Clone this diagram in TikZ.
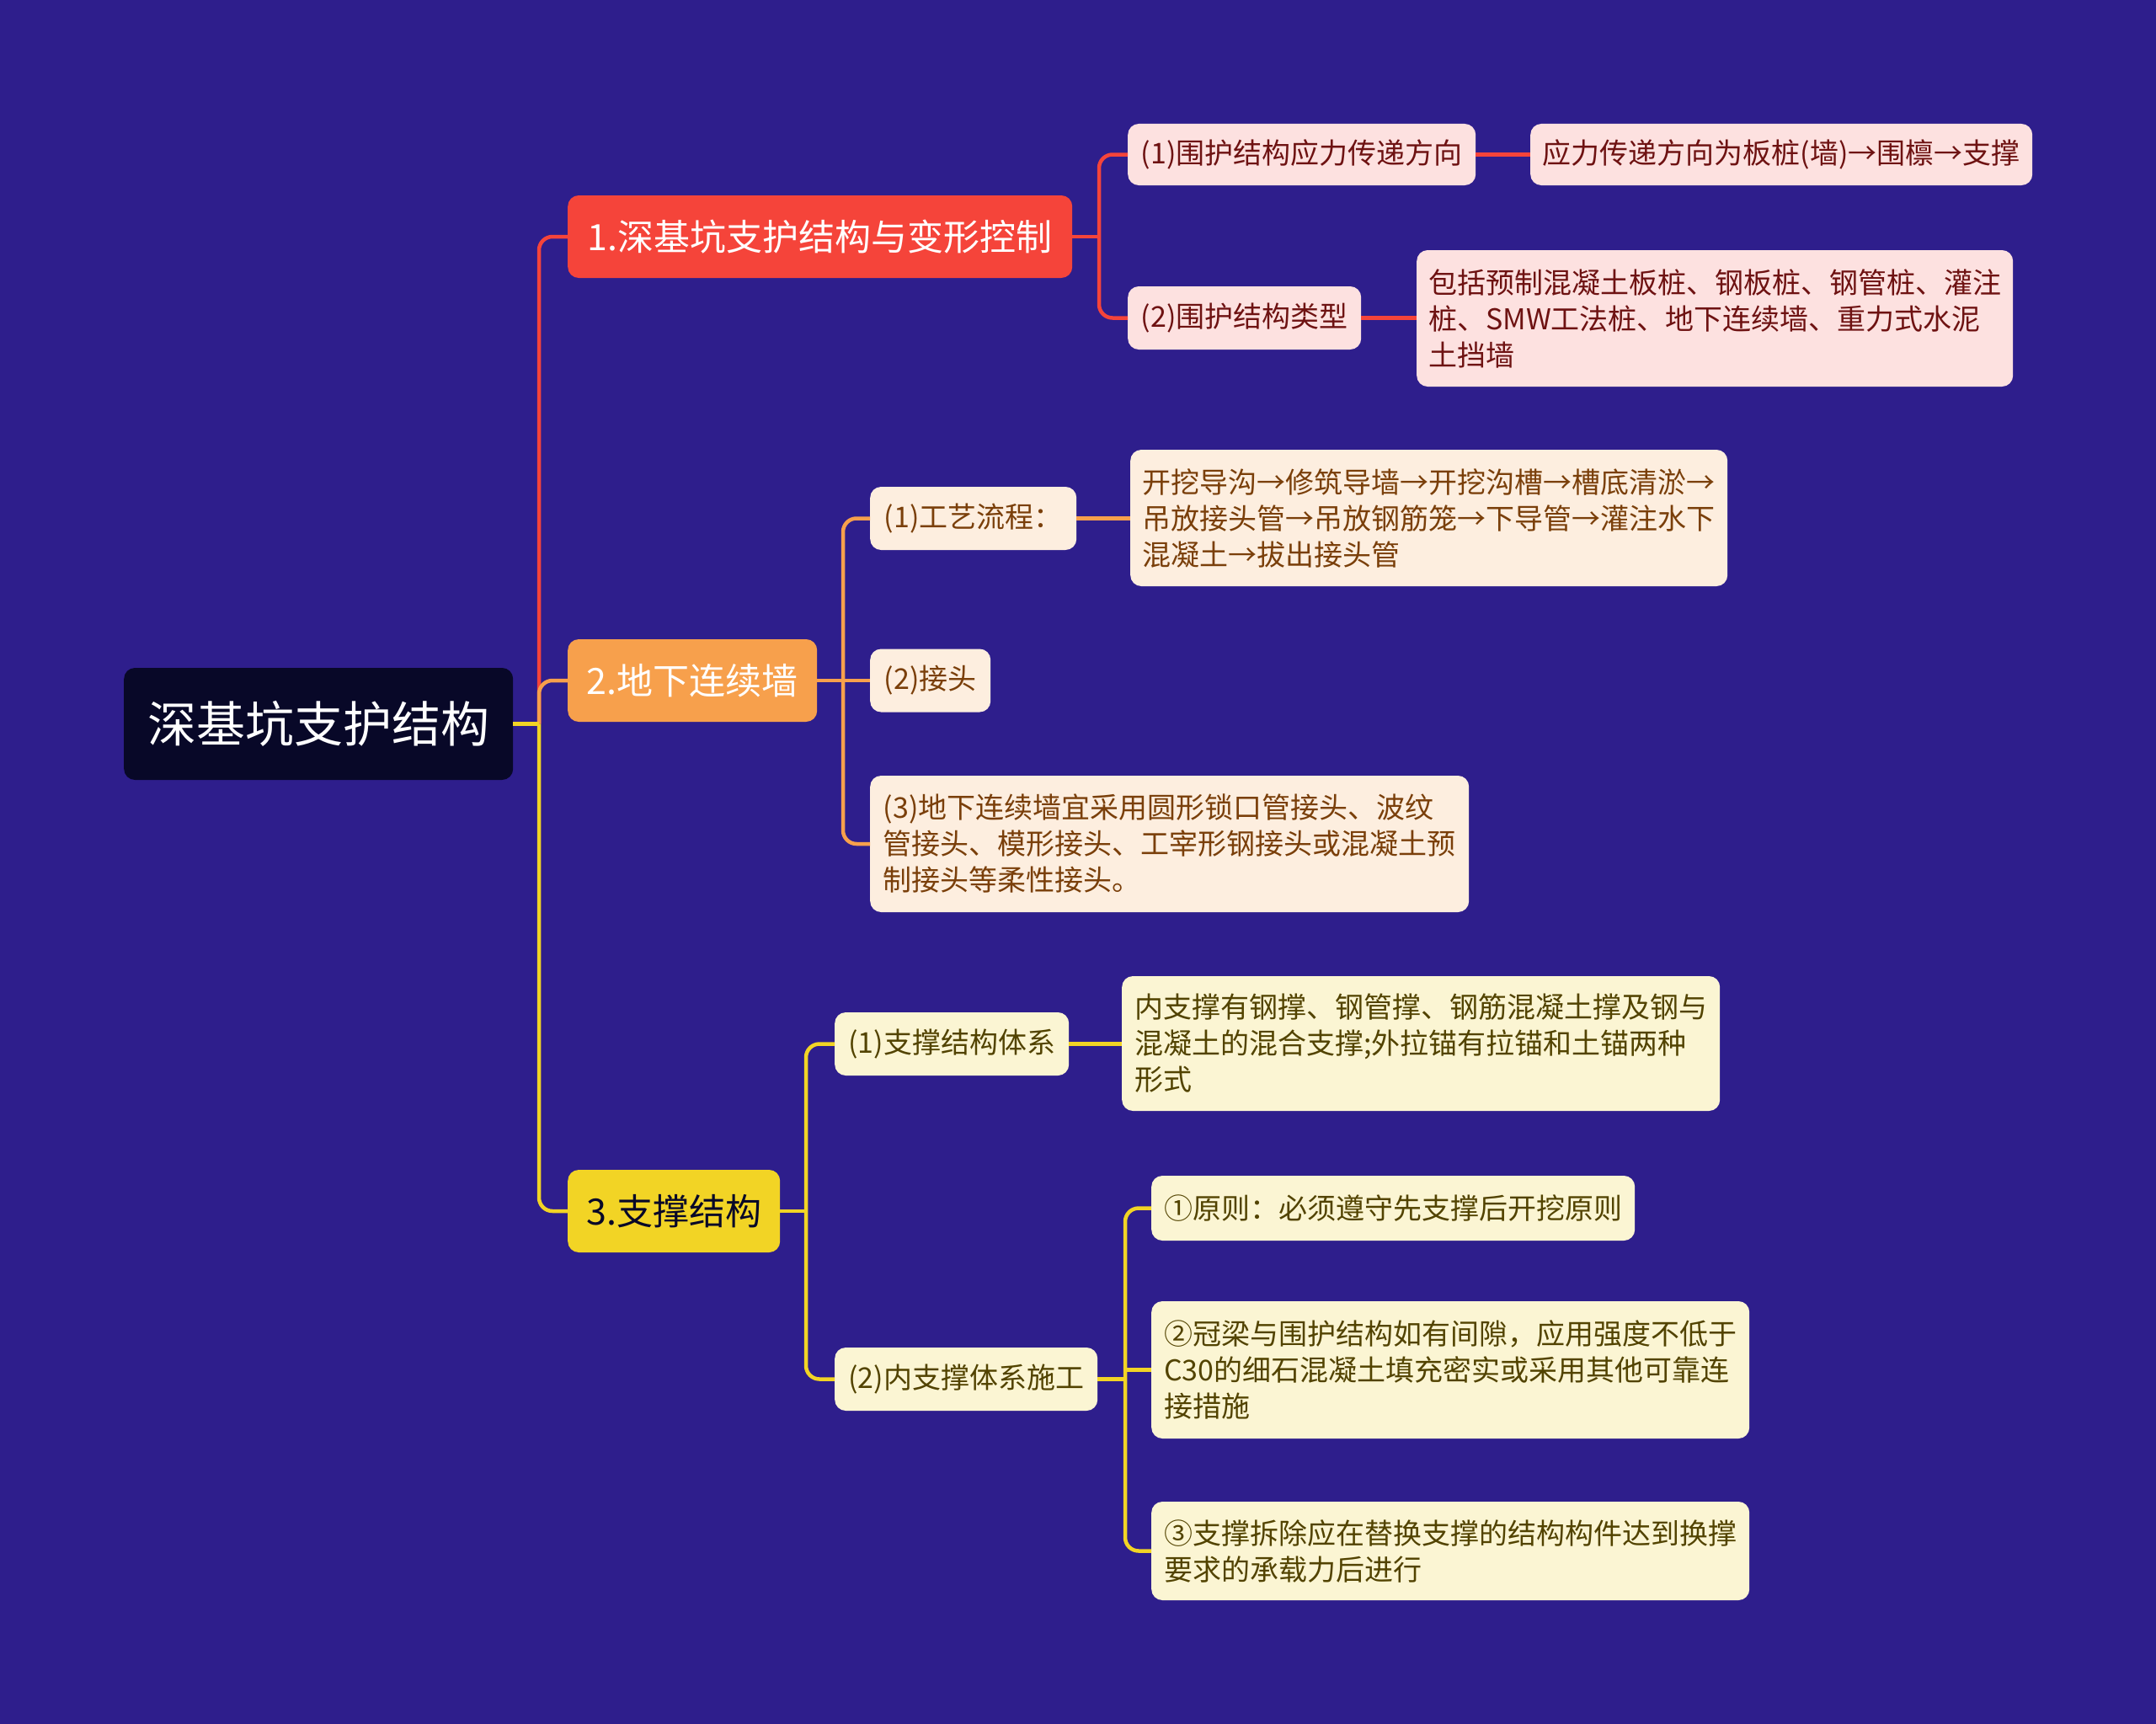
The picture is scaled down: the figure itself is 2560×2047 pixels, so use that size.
\documentclass[tikz,border=0pt]{standalone}
\usepackage{fontspec}
\setmainfont{Noto Sans CJK SC}
\definecolor{bgc}{RGB}{46,30,140}
\definecolor{rootc}{RGB}{8,8,40}
\definecolor{redc}{RGB}{245,68,58}
\definecolor{orc}{RGB}{247,160,76}
\definecolor{yelc}{RGB}{242,212,37}
\definecolor{pinkf}{RGB}{253,225,224}
\definecolor{pinkt}{RGB}{110,18,18}
\definecolor{orf}{RGB}{253,238,223}
\definecolor{ort}{RGB}{122,63,10}
\definecolor{yelf}{RGB}{251,245,211}
\definecolor{yelt}{RGB}{82,67,0}
\begin{document}
\begin{tikzpicture}[x=1pt,y=-1pt,
  base/.style={rounded corners=13pt, anchor=west, align=left, inner xsep=0pt, inner ysep=0pt},
  rootbox/.style={base, fill=rootc, text=white, font=\fontsize{58}{70}\selectfont},
  brbox/.style={base, font=\fontsize{43}{52}\selectfont},
  kid/.style={base, font=\fontsize{34}{43}\selectfont},
  rkid/.style={kid, fill=pinkf, text=pinkt},
  okid/.style={kid, fill=orf, text=ort},
  ykid/.style={kid, fill=yelf, text=yelt},
  link/.style={line width=4.5pt, rounded corners=16pt},
]
\fill[bgc] (0,0) rectangle (2560,2047);

% root and branches
\node[rootbox, minimum width=462pt, minimum height=133pt] (root) at (147,859.5) {深基坑支护结构};
\node[brbox, fill=redc, text=white, minimum width=599pt, minimum height=98pt] (b1) at (674,281) {1.深基坑支护结构与变形控制};
\node[brbox, fill=orc, text=white, minimum width=296pt, minimum height=98pt] (b2) at (674,808) {2.地下连续墙};
\node[brbox, fill=yelc, text=rootc, minimum width=252pt, minimum height=98pt] (b3) at (674,1438) {3.支撑结构};

% branch 1 children
\node[rkid, minimum width=413pt, minimum height=73pt] (c11) at (1339,183.5) {(1)围护结构应力传递方向};
\node[rkid, minimum width=596pt, minimum height=73pt] (c11a) at (1817,183.5) {应力传递方向为板桩(墙)→围檩→支撑};
\node[rkid, minimum width=277pt, minimum height=75pt] (c12) at (1339,377.5) {(2)围护结构类型};
\node[rkid, minimum width=708pt, minimum height=162pt] (c12a) at (1682,378) {包括预制混凝土板桩、钢板桩、钢管桩、灌注\\桩、SMW工法桩、地下连续墙、重力式水泥\\土挡墙};

% branch 2 children
\node[okid, minimum width=245pt, minimum height=75pt] (c21) at (1033,615.5) {(1)工艺流程：};
\node[okid, minimum width=709pt, minimum height=162pt] (c21a) at (1342,615) {开挖导沟→修筑导墙→开挖沟槽→槽底清淤→\\吊放接头管→吊放钢筋笼→下导管→灌注水下\\混凝土→拔出接头管};
\node[okid, minimum width=143pt, minimum height=75pt] (c22) at (1033,808) {(2)接头};
\node[okid, minimum width=711pt, minimum height=162pt] (c23) at (1033,1002) {(3)地下连续墙宜采用圆形锁口管接头、波纹\\管接头、模形接头、工宰形钢接头或混凝土预\\制接头等柔性接头。};

% branch 3 children
\node[ykid, minimum width=278pt, minimum height=75pt] (c31) at (991,1239.5) {(1)支撑结构体系};
\node[ykid, minimum width=710pt, minimum height=160pt] (c31a) at (1332,1239) {内支撑有钢撑、钢管撑、钢筋混凝土撑及钢与\\混凝土的混合支撑;外拉锚有拉锚和土锚两种\\形式};
\node[ykid, minimum width=312pt, minimum height=75pt] (c32) at (991,1637.5) {(2)内支撑体系施工};
\node[ykid, minimum width=574pt, minimum height=77pt] (c321) at (1367,1434.5) {①原则：必须遵守先支撑后开挖原则};
\node[ykid, minimum width=710pt, minimum height=163pt] (c322) at (1367,1626.5) {②冠梁与围护结构如有间隙，应用强度不低于\\C30的细石混凝土填充密实或采用其他可靠连\\接措施};
\node[ykid, minimum width=710pt, minimum height=117pt] (c323) at (1367,1841.5) {③支撑拆除应在替换支撑的结构构件达到换撑\\要求的承载力后进行};

% trunk junction points
\coordinate (j0) at (640,859.5);
\coordinate (j1) at (1305,281);
\coordinate (j2) at (1001,808);
\coordinate (j3) at (957,1438);
\coordinate (j32) at (1336,1637.5);

% root connectors
\draw[link, redc] (b1.west) -| (j0);
\draw[link, orc] (b2.west) -| (j0);
\draw[link, yelc] (j0) |- (b3.west);
\draw[link, yelc] (root.east) -- (j0);

% branch 1
\draw[link, redc] (c11.west) -| (j1) |- (c12.west);
\draw[link, redc] (b1.east) -- (j1);
\draw[link, redc] (c11.east) -- (c11a.west);
\draw[link, redc] (c12.east) -- (c12a.west |- c12.east);

% branch 2
\draw[link, orc] (c21.west) -| (j2) |- (c23.west);
\draw[link, orc] (b2.east) -- (c22.west);
\draw[link, orc] (c21.east) -- (c21a.west |- c21.east);

% branch 3
\draw[link, yelc] (c31.west) -| (j3) |- (c32.west);
\draw[link, yelc] (b3.east) -- (j3);
\draw[link, yelc] (c31.east) -- (c31a.west |- c31.east);
\draw[link, yelc] (c321.west) -| (j32) |- (c323.west);
\draw[link, yelc] (c32.east) -- (j32);
\draw[link, yelc] (j32 |- c322.west) -- (c322.west);
\end{tikzpicture}
\end{document}
